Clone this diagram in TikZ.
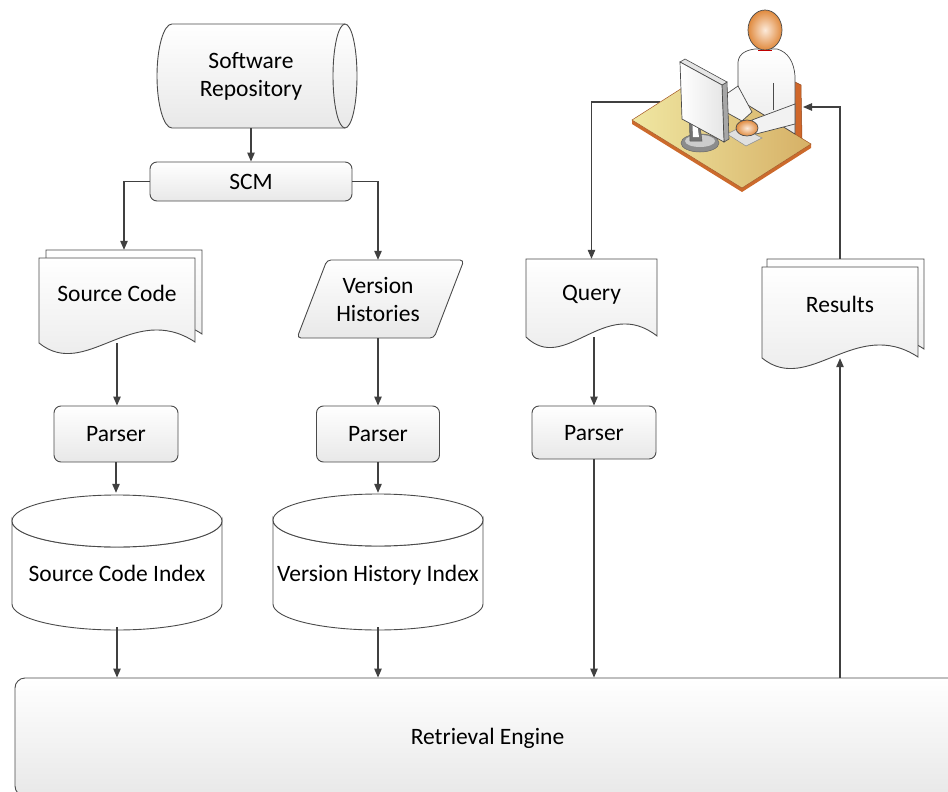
\documentclass[tikz,border=0pt]{standalone}
\usepackage{fontspec}
\setmainfont{Carlito}
\usetikzlibrary{arrows.meta,calc}
\definecolor{edgec}{HTML}{4A4A4A}
\definecolor{connc}{HTML}{404040}
\definecolor{skin}{HTML}{E08A3E}
\definecolor{skinlt}{HTML}{FCEADA}
\definecolor{deskA}{HTML}{F0E7A2}
\definecolor{deskB}{HTML}{D6B066}
\definecolor{deskedge}{HTML}{CC6A2C}
\definecolor{chairc}{HTML}{D0672A}
% document page: left x, right x, top y, bottom-left y (wavy bottom edge)
\newcommand\docpath[4]{(#1,#3) -- (#2,#3) -- (#2,#4-1)
  .. controls (#1+0.6*#2-0.6*#1,#4-42) and (#1+0.3*#2-0.3*#1,#4+38) .. (#1,#4) -- cycle}
\begin{document}
\begin{tikzpicture}[x=1pt,y=-1pt,
  every node/.style={font=\fontsize{23.5}{28}\selectfont, text=black},
  shp/.style={draw=edgec, line width=0.9pt, top color=white, bottom color=black!9},
  box/.style={shp, rounded corners=7pt, inner sep=0pt},
  lbl/.style={inner sep=0pt, align=center},
  one/.style={text height=#1, text depth=0pt},
  cyl/.style={draw=edgec, line width=0.9pt, fill=white},
  conn/.style={draw=connc, line width=1.1pt},
  arr/.style={conn, -{Triangle[length=9pt,width=7.5pt]}},
  fig/.style={draw=edgec, line width=0.7pt},
]
\useasboundingbox (0,0) rectangle (948,792);
\clip (0,0) rectangle (948,792);

% ---------- shapes ----------
% software repository (direct data)
\path[shp] (172,24) -- (345,24)
  arc[start angle=-90, end angle=90, x radius=12, y radius=52]
  -- (172,128)
  arc[start angle=90, end angle=270, x radius=15, y radius=52] -- cycle;
\draw[edgec, line width=0.9pt] (345,24) arc[start angle=270, end angle=90, x radius=12, y radius=52];
\node[lbl, minimum width=200pt, minimum height=104pt] (repo) at (251,76) {Software\\Repository};

\node[box, one=15pt, minimum width=202pt, minimum height=39pt] (scm) at (251,181.5) {SCM};

% source code (multiple documents)
\path[shp] \docpath{46}{202}{250}{335};
\path[shp] \docpath{39}{195}{258}{343};
\node[lbl, text height=15pt, text depth=13.5pt, minimum width=156pt, minimum height=85pt] (src) at (117,300.5) {Source Code};

% version histories (data)
\path[shp, rounded corners=4pt] (327,260) -- (464,260) -- (434,338) -- (297,338) -- cycle;
\node[lbl, minimum width=130pt, minimum height=78pt] (vh) at (378,299) {Version\\Histories};

% query (document)
\path[shp] \docpath{526}{657}{259}{337};
\node[lbl, text height=15pt, text depth=9.5pt, minimum width=131pt, minimum height=78pt] (q) at (591.5,298) {Query};

% results (multiple documents)
\path[shp] \docpath{767}{924}{259}{350};
\path[shp] \docpath{762}{918}{267}{358};
\node[lbl, text height=15pt, text depth=14.5pt, minimum width=156pt, minimum height=91pt] (res) at (840,312.5) {Results};

% parsers
\node[box, one=15pt, minimum width=124pt, minimum height=56pt] (p1) at (116,434) {Parser};
\node[box, one=15pt, minimum width=123pt, minimum height=56pt] (p2) at (378,434) {Parser};
\node[box, one=15pt, minimum width=124pt, minimum height=53pt] (p3) at (594,432.5) {Parser};

% index stores (cylinders)
\path[cyl] (12,521) -- (12,604) arc[start angle=180, end angle=0, x radius=105, y radius=26]
  -- (222,521) arc[start angle=0, end angle=180, x radius=105, y radius=26] -- cycle;
\draw[cyl] (117,521) ellipse[x radius=105, y radius=26];
\node[lbl, one=42.5pt, minimum width=210pt, minimum height=134pt] (sci) at (117,560) {Source Code Index};

\path[cyl] (273,520) -- (273,604) arc[start angle=180, end angle=0, x radius=105, y radius=26]
  -- (483,520) arc[start angle=0, end angle=180, x radius=105, y radius=26] -- cycle;
\draw[cyl] (378,520) ellipse[x radius=105, y radius=26];
\node[lbl, one=42.5pt, minimum width=210pt, minimum height=134pt] (vhi) at (378,560) {Version History Index};

% retrieval engine
\node[box, one=15pt, rounded corners=10pt, minimum width=945pt, minimum height=118pt] (re) at (487.5,737) {Retrieval Engine};

% ---------- connectors ----------
\coordinate (ul) at (660,102);
\coordinate (ur) at (803,107);
\draw[arr] (repo.south) -- (scm.north);
\draw[arr] (scm.west) -| ($(src.north)+(7,-8)$);
\draw[arr] (scm.east) -| (vh.north);
\draw[arr] (src.south) -- (src.south |- p1.north);
\draw[arr] (vh.south) -- (vh.south |- p2.north);
\draw[arr] (p1.south) -- (p1.south |- sci.north);
\draw[arr] (p2.south) -- (p2.south |- vhi.north);
\draw[arr] (sci.south) -- (sci.south |- re.north);
\draw[arr] (vhi.south) -- (vhi.south |- re.north);
\draw[arr] (ul) -| (q.north);
\draw[arr] (p3.north |- q.south) -- (p3.north);
\draw[arr] (p3.south) -- (p3.south |- re.north);
\draw[arr] (res.south |- re.north) -- (res.south);
\draw[arr] ($(res.north)+(0,-8)$) |- (ur);

% ---------- user at a workstation ----------
% chair back
\path[fill=chairc, draw=chairc!70!black, line width=0.5pt] (791,80) -- (801,85) -- (802,139) -- (792,134) -- cycle;
% desk
\path[fill=deskedge] (632,120) -- (742,188) -- (811,144) -- (811,148) -- (742,192) -- (632,124) -- cycle;
\path[left color=deskA, right color=deskB, draw=deskedge!80!black, line width=0.5pt]
  (632,120) -- (701,76) -- (811,144) -- (742,188) -- cycle;
% torso
\path[fig, top color=white, bottom color=black!8]
  (738,99) -- (738,62) .. controls (739,53) and (747,50) .. (755,49) -- (777,49)
  .. controls (788,52) and (794,62) .. (795,76) -- (795,134) -- cycle;
\draw[edgec, line width=0.5pt] (773,83) -- (773,110);
% far arm
\path[fig, fill=black!4] (738,86) -- (722,97) -- (722,110) -- (742,121) -- (752,112) -- cycle;
% keyboard
\path[fill=black!12, draw=black!45, line width=0.5pt] (727,134) -- (741,127) -- (762,138) -- (746,146) -- cycle;
% near arm
\path[fig, fill=black!5] (795,104) -- (752,120) -- (756,134) -- (795,124) -- cycle;
% hand
\path[fig, inner color=skinlt, outer color=skin] (747,128) ellipse[x radius=11, y radius=8];
% head
\path[fig, inner color=skinlt, outer color=skin] (765,30) ellipse[x radius=17, y radius=20];
\draw[red!75!black, line width=0.8pt] (758,50.5) -- (772,50.5);
% monitor stand
\path[fill=black!45, draw=black!60, line width=0.5pt] (700,143) ellipse[x radius=19, y radius=9];
\path[fill=black!20] (700,141) ellipse[x radius=15, y radius=6];
\path[fill=black!55, draw=black!65, line width=0.5pt] (689,108) -- (698,112) -- (702,141) -- (690,141) -- cycle;
\path[fill=white] (692,114) -- (696,116) -- (699,137) -- (693,137) -- cycle;
% monitor
\path[fill=black!35, draw=edgec, line width=0.6pt] (722,85) -- (727,82) -- (729,139) -- (724,142) -- cycle;
\path[fill=black!10, draw=edgec, line width=0.6pt] (680,62) -- (685,59) -- (727,82) -- (722,85) -- cycle;
\path[left color=white, right color=black!10, draw=edgec, line width=0.7pt]
  (680,62) -- (722,85) -- (724,142) -- (682,119) -- cycle;
\end{tikzpicture}
\end{document}
